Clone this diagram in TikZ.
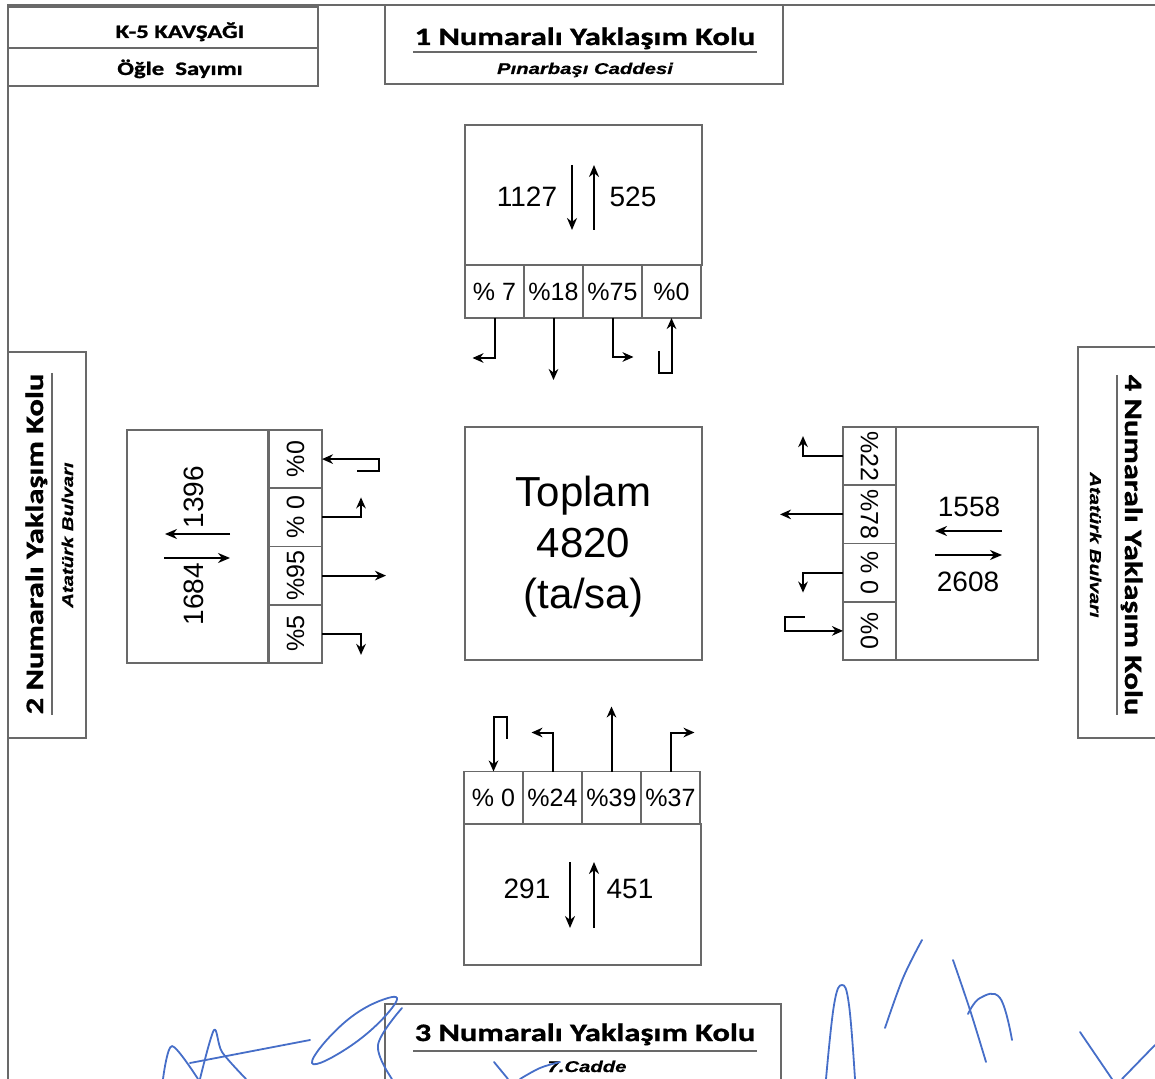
\documentclass[tikz,border=0pt]{standalone}
\usepackage{fontspec}
\setmainfont{Liberation Sans}
\newfontfamily\titlefont[FakeStretch=1.3,FakeBold=1.2]{Carlito}
\newfontfamily\streetfont[FakeStretch=1.3,FakeBold=0.6]{Liberation Sans}
\usetikzlibrary{positioning,arrows.meta}
\definecolor{boxgray}{RGB}{105,105,105}
\definecolor{inkblue}{RGB}{70,110,200}

\begin{document}
\begin{tikzpicture}[x=0.5pt, y=-0.5pt, node distance=0pt,
    frame/.style={draw=boxgray, line width=0.8pt},
    cell/.style={frame, minimum width=29.5pt, minimum height=26.5pt, inner sep=0pt, outer sep=0pt, font=\fontsize{12.5}{14}\selectfont},
    cellv/.style={cell, minimum width=29.1pt},
    count/.style={font=\fontsize{14}{16}\selectfont},
    armtitle/.style={font=\titlefont\bfseries\fontsize{12.5}{15}\selectfont, inner sep=0pt},
    street/.style={font=\streetfont\bfseries\itshape\fontsize{7.8}{9}\selectfont, inner sep=0pt},
    turn/.style={-{Stealth[length=5.5pt,width=4.8pt]}, line width=1pt},
    uturn/.style={{Stealth[length=5.5pt,width=4.8pt]}-, line width=1pt},
    flow/.style={-{Stealth[length=6pt,width=5pt]}, line width=1.3pt},
    sign/.style={draw=inkblue, line width=0.9pt, line cap=round, line join=round}]
    \useasboundingbox (0,0) rectangle (1155,1079);

    % page frame and heading
    \draw[frame] (8,1079) -- (8,5) -- (1155,5);
    \draw[frame] (8,7) rectangle (318,86);
    \draw[frame] (8,48) -- (318,48);
    \node (junction) [font=\titlefont\bfseries\fontsize{9.5}{11}\selectfont, anchor=base] at (180,38) {K-5 KAVŞAĞI};
    \node (period) [font=\titlefont\bfseries\fontsize{9.5}{11}\selectfont, anchor=base] at (180,75) {Öğle~~Sayımı};

    % arm titles
    \draw[frame] (385,5) rectangle (783,84);
    \node (narm) [armtitle, anchor=base] at (585,45) {1 Numaralı Yaklaşım Kolu};
    \draw[frame] (413,52) -- (757,52);
    \node (nstreet) [street, anchor=base] at (585,74) {Pınarbaşı Caddesi};

    \draw[frame] (8,352) rectangle (86,738);
    \node (warm) [armtitle, rotate=90, anchor=base] at (43,544) {2 Numaralı Yaklaşım Kolu};
    \draw[frame] (52,373) -- (52,715);
    \node (wstreet) [street, rotate=90, anchor=base] at (73,535) {Atatürk Bulvarı};

    \draw[frame] (385,1004) rectangle (781,1090);
    \node (sarm) [armtitle, anchor=base] at (585,1041) {3 Numaralı Yaklaşım Kolu};
    \draw[frame] (413,1051) -- (757,1051);
    \node (sstreet) [street, anchor=base] at (587,1072) {7.Cadde};

    \draw[frame] (1078,347) rectangle (1165,738);
    \node (earm) [armtitle, rotate=-90, anchor=base] at (1125,545) {4 Numaralı Yaklaşım Kolu};
    \draw[frame] (1117,375) -- (1117,715);
    \node (estreet) [street, rotate=-90, anchor=base] at (1090,545) {Atatürk Bulvarı};

    % total
    \node (total) [frame, minimum width=118.5pt, minimum height=116.5pt] at (583.5,543.5) {};
    \node (totaltext) [align=center, font=\fontsize{21}{25.5}\selectfont] at (583.5,547) {Toplam\\4820\\(ta/sa)};

    % north arm
    \node (nbox) [frame, minimum width=118.5pt, minimum height=70pt] at (583.5,195) {};
    \node (nin) [count] at (527,197) {1127};
    \node (nout) [count] at (633,197) {525};
    \draw[flow] (572,165) -- (572,230);
    \draw[flow] (594,230) -- (594,165);
    \node (n1) [cell] at (494.5,291.5) {\% 7};
    \node (n2) [cell, right=of n1] {\%18};
    \node (n3) [cell, right=of n2] {\%75};
    \node (n4) [cell, right=of n3] {\%0};
    \draw[turn] (n1.south) -- ++(0,40) -- ++(-22,0);
    \draw[turn] (n2.south) -- ++(0,62);
    \draw[turn] (n3.south) -- ++(0,39) -- ++(21,0);
    \draw[uturn] (n4.south) -- ++(0,55) -- ++(-13,0) -- ++(0,-22);

    % west arm
    \node (wbox) [frame, minimum width=70.5pt, minimum height=116.5pt] at (197.5,546.5) {};
    \node (wout) [count, rotate=90] at (194,497) {1396};
    \node (win) [count, rotate=90] at (194,594) {1684};
    \draw[flow] (230,534) -- (165,534);
    \draw[flow] (164,558) -- (230,558);
    \node (w1) [cellv, rotate=90] at (295.5,459.1) {\%0};
    \node (w2) [cellv, rotate=90] at (295.5,517.4) {\% 0};
    \node (w3) [cellv, rotate=90] at (295.5,575.6) {\%95};
    \node (w4) [cellv, rotate=90] at (295.5,633.9) {\%5};
    \draw[uturn] (w1.south) -- ++(57,0) -- ++(0,12) -- ++(-22,0);
    \draw[turn] (w2.south) -- ++(39,0) -- ++(0,-20);
    \draw[turn] (w3.south) -- ++(64,0);
    \draw[turn] (w4.south) -- ++(39,0) -- ++(0,21);

    % east arm
    \node (ebox) [frame, minimum width=71pt, minimum height=116.5pt] at (967,543.5) {};
    \node (ein) [count] at (969,507) {1558};
    \node (eout) [count] at (968,582) {2608};
    \draw[flow] (1002,531) -- (935,531);
    \draw[flow] (935,555) -- (1002,555);
    \node (e1) [cellv, rotate=-90] at (869.5,456.1) {\%22};
    \node (e2) [cellv, rotate=-90] at (869.5,514.4) {\%78};
    \node (e3) [cellv, rotate=-90] at (869.5,572.6) {\% 0};
    \node (e4) [cellv, rotate=-90] at (869.5,630.9) {\%0};
    \draw[turn] (e1.south) -- ++(-40,0) -- ++(0,-20);
    \draw[turn] (e2.south) -- ++(-63,0);
    \draw[turn] (e3.south) -- ++(-40,0) -- ++(0,20);
    \draw[uturn] (e4.south) -- ++(-58,0) -- ++(0,-14) -- ++(20,0);

    % south arm
    \node (sbox) [frame, minimum width=118.5pt, minimum height=70.5pt] at (582.5,894.5) {};
    \node (sout) [count] at (527,889) {291};
    \node (sin) [count] at (630,889) {451};
    \draw[flow] (570,862) -- (570,928);
    \draw[flow] (594,928) -- (594,862);
    \node (s1) [cell] at (493.5,798) {\% 0};
    \node (s2) [cell, right=of s1] {\%24};
    \node (s3) [cell, right=of s2] {\%39};
    \node (s4) [cell, right=of s3] {\%37};
    \draw[uturn] (s1.north) -- ++(0,-55) -- ++(13,0) -- ++(0,22);
    \draw[turn] (s2.north) -- ++(0,-39) -- ++(-21,0);
    \draw[turn] (s3.north) -- ++(0,-65);
    \draw[turn] (s4.north) -- ++(0,-39) -- ++(24,0);

    % signatures
    \draw[sign] plot[smooth, tension=0.5] coordinates {(163,1079) (172,1046) (198,1079)};
    \draw[sign] plot[smooth, tension=0.5] coordinates {(200,1079) (214,1030) (222,1052) (246,1079)};
    \draw[sign] (190,1063) -- (310,1040);
    \draw[sign] plot[smooth cycle, tension=0.8] coordinates {(312,1063) (345,1022) (388,998) (392,1008) (352,1045)};
    \draw[sign] plot[smooth, tension=0.6] coordinates {(402,1008) (378,1045) (392,1079)};
    \draw[sign] plot[smooth, tension=0.6] coordinates {(494,1062) (508,1079)};
    \draw[sign] plot[smooth, tension=0.6] coordinates {(520,1079) (540,1068) (560,1062)};
    \draw[sign] plot[smooth, tension=0.7] coordinates {(826,1079) (834,1005) (842,985) (849,1005) (855,1079)};
    \draw[sign] plot[smooth, tension=0.6] coordinates {(885,1028) (903,978) (922,940)};
    \draw[sign] plot[smooth, tension=0.6] coordinates {(953,960) (970,1010) (986,1062)};
    \draw[sign] plot[smooth, tension=0.7] coordinates {(968,1014) (980,998) (1000,998) (1012,1040)};
    \draw[sign] (1080,1032) -- (1112,1079);
    \draw[sign] (1122,1079) -- (1155,1045);
\end{tikzpicture}
\end{document}
